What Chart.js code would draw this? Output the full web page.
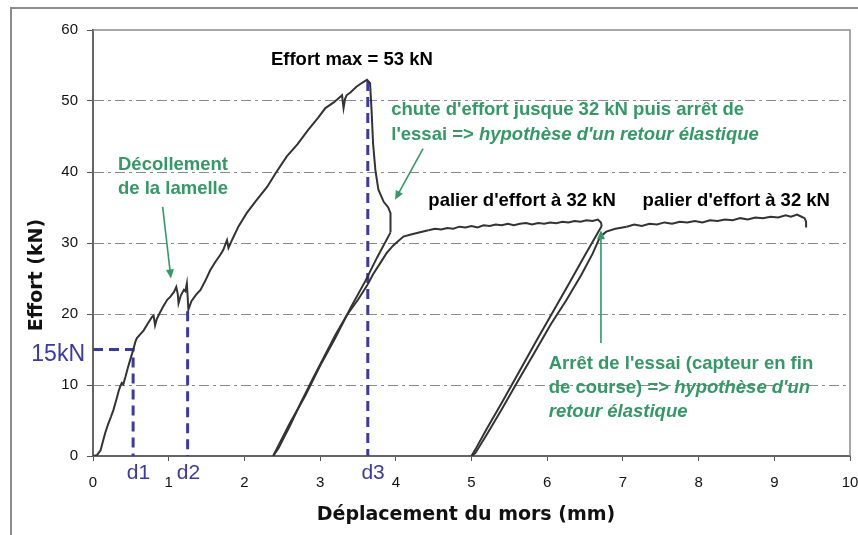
<!DOCTYPE html>
<html>
<head>
<meta charset="utf-8">
<script src="https://cdn.jsdelivr.net/npm/chart.js@4"></script>
<style>
  html, body { margin: 0; padding: 0; background: #fff; }
  #wrap { width: 858px; height: 535px; }
</style>
</head>
<body>
<div id="wrap"><canvas id="chart" width="858" height="535"></canvas></div>
<script>
// ---- data (mm, kN) ----
const loadX = [0, 0.05, 0.10, 0.13, 0.16, 0.20, 0.24, 0.27, 0.31, 0.34, 0.36, 0.38, 0.40, 0.43, 0.46, 0.49, 0.53, 0.56, 0.58, 0.62,
  0.67, 0.72, 0.78, 0.80, 0.82, 0.84, 0.87, 0.92, 0.98, 1.02, 1.04, 1.07, 1.10, 1.12, 1.13, 1.16, 1.20, 1.22, 1.24, 1.25,
  1.26, 1.30, 1.36, 1.42, 1.48, 1.55, 1.62, 1.68, 1.72, 1.77, 1.79, 1.84, 1.92, 2.03, 2.15, 2.30, 2.41, 2.56, 2.70, 2.84,
  2.97, 3.07, 3.18, 3.29, 3.31, 3.33, 3.35, 3.40, 3.48, 3.56, 3.62, 3.66, 3.68, 3.70, 3.73, 3.77, 3.84, 3.90, 3.93, 3.93];
const loadY = [0, 0.1, 0.8, 2.0, 3.2, 4.5, 5.6, 6.5, 8.0, 9.2, 9.8, 10.3, 10.1, 11.2, 12.4, 13.5, 14.9, 16.1, 16.6, 17.1,
  17.7, 18.6, 19.6, 19.8, 18.4, 19.2, 19.9, 20.9, 22.0, 22.4, 22.7, 23.1, 23.8, 22.8, 21.5, 22.6, 23.4, 23.2, 24.3, 22.5,
  20.6, 21.8, 22.7, 23.4, 24.6, 26.2, 27.4, 28.3, 29.0, 30.4, 29.3, 30.5, 32.3, 34.2, 35.9, 37.9, 39.8, 42.2, 43.9, 45.9,
  47.6, 49.0, 49.8, 50.8, 49.0, 50.3, 50.8, 51.2, 52.0, 52.6, 53.0, 52.5, 48.7, 44.0, 40.3, 37.5, 35.8, 35.0, 34.2, 31.5];

const unload1X = [3.93, 3.75, 3.60, 3.40, 3.20, 3.00, 2.80, 2.60, 2.45, 2.38];
const unload1Y = [31.5, 27.9, 24.7, 20.8, 16.6, 12.7, 8.4, 4.6, 1.5, 0];

const reload1X = [2.38, 2.45, 2.60, 2.75, 2.90, 3.05, 3.20, 3.35, 3.50, 3.62, 3.70, 3.79, 3.88, 3.97, 4.10, 4.20, 4.28, 4.43];
const reload1Y = [0, 1.1, 4.2, 7.6, 10.8, 13.9, 17.0, 19.8, 22.0, 24.0, 25.6, 27.1, 28.6, 29.7, 30.9, 31.2, 31.4, 31.8];

const plateau1X = [4.43, 4.52, 4.60, 4.68, 4.76, 4.84, 4.92, 5.00, 5.08, 5.16, 5.24, 5.32, 5.40, 5.48, 5.56, 5.64,
  5.72, 5.80, 5.88, 5.96, 6.04, 6.12, 6.20, 6.28, 6.36, 6.44, 6.52, 6.60, 6.67, 6.71, 6.72];
const plateau1Y = [31.8, 32.0, 31.9, 32.1, 32.0, 32.3, 32.2, 32.4, 32.2, 32.5, 32.4, 32.6, 32.5, 32.7, 32.5, 32.7,
  32.8, 32.6, 32.8, 32.7, 32.9, 32.8, 33.0, 32.9, 33.1, 33.0, 33.2, 33.1, 33.3, 32.9, 32.4];

const unload2X = [6.72, 6.50, 6.30, 6.08, 5.85, 5.60, 5.40, 5.20, 5.05, 5.00];
const unload2Y = [32.4, 28.3, 24.5, 20.4, 16.1, 11.3, 7.5, 3.8, 0.9, 0];

const reload2X = [5.00, 5.05, 5.20, 5.40, 5.60, 5.85, 6.05, 6.25, 6.45, 6.60, 6.70, 6.78, 6.90, 7.05];
const reload2Y = [0, 0.4, 3.0, 6.6, 10.3, 14.9, 18.6, 21.9, 25.5, 28.5, 30.9, 31.6, 32.0, 32.3];

const plateau2X = [7.05, 7.15, 7.25, 7.35, 7.45, 7.55, 7.65, 7.75, 7.85, 7.95, 8.05, 8.15, 8.25, 8.35, 8.45, 8.55,
  8.65, 8.75, 8.85, 8.95, 9.05, 9.15, 9.22, 9.30, 9.36, 9.40, 9.42, 9.42];
const plateau2Y = [32.3, 32.6, 32.4, 32.7, 32.6, 32.9, 32.7, 33.0, 32.9, 33.1, 32.9, 33.2, 33.1, 33.3, 33.2, 33.5,
  33.3, 33.6, 33.5, 33.7, 33.6, 33.9, 33.7, 34.0, 33.7, 33.5, 33.0, 32.2];

// blue guide lines (15 kN / d1, d2, d3)
const guide15X = [0, 0.53, 0.53];
const guide15Y = [15, 15, 0];
const guideD2X = [1.25, 1.25];
const guideD2Y = [20.4, 0];
const guideD3X = [3.63, 3.63];
const guideD3Y = [52.8, 0];

const xTicks = [0, 1, 2, 3, 4, 5, 6, 7, 8, 9, 10];
const yTicks = [0, 10, 20, 30, 40, 50, 60];

/* =========================
   HELPERS
========================= */

const GREEN = "#339966";
const BLUE = "#3a3aa6";
const CURVE = "#333333";

function pts(xs, ys) {
  return xs.map((x, i) => ({ x: x, y: ys[i] }));
}

function curve(xs, ys) {
  return {
    data: pts(xs, ys),
    showLine: true,
    borderColor: CURVE,
    borderWidth: 2,
    pointRadius: 0,
    tension: 0,
  };
}

function guide(xs, ys) {
  return {
    data: pts(xs, ys),
    showLine: true,
    borderColor: BLUE,
    borderWidth: 3,
    borderDash: [10, 6],
    pointRadius: 0,
    tension: 0,
  };
}

function richText(ctx, parts, x, y, align, size, color) {
  let total = 0;
  parts.forEach((p) => {
    ctx.font = (p.italic ? "italic " : "") + "bold " + size + "px 'Liberation Sans', Arial, sans-serif";
    total += ctx.measureText(p.t).width;
  });
  let cx = align === "center" ? x - total / 2 : x;
  ctx.fillStyle = color;
  ctx.textBaseline = "middle";
  ctx.textAlign = "left";
  parts.forEach((p) => {
    ctx.font = (p.italic ? "italic " : "") + "bold " + size + "px 'Liberation Sans', Arial, sans-serif";
    ctx.fillText(p.t, cx, y);
    cx += ctx.measureText(p.t).width;
  });
}

function arrow(ctx, x1, y1, x2, y2, color) {
  const a = Math.atan2(y2 - y1, x2 - x1);
  const len = 9;
  const w = 4;
  ctx.strokeStyle = color;
  ctx.fillStyle = color;
  ctx.lineWidth = 1.6;
  ctx.beginPath();
  ctx.moveTo(x1, y1);
  ctx.lineTo(x2 - Math.cos(a) * len * 0.8, y2 - Math.sin(a) * len * 0.8);
  ctx.stroke();
  ctx.beginPath();
  ctx.moveTo(x2, y2);
  ctx.lineTo(x2 - Math.cos(a) * len + Math.sin(a) * w, y2 - Math.sin(a) * len - Math.cos(a) * w);
  ctx.lineTo(x2 - Math.cos(a) * len - Math.sin(a) * w, y2 - Math.sin(a) * len + Math.cos(a) * w);
  ctx.closePath();
  ctx.fill();
}

/* =========================
   DECORATION PLUGIN
========================= */

const decor = {
  id: "decor",
  beforeDraw(chart) {
    const ctx = chart.ctx;
    ctx.save();
    ctx.fillStyle = "#fff";
    ctx.fillRect(0, 0, chart.width, chart.height);
    ctx.strokeStyle = "#8c8c8c";
    ctx.lineWidth = 2;
    ctx.strokeRect(11, 8, 900, 600);
    ctx.restore();
  },
  afterDraw(chart) {
    const ctx = chart.ctx;
    const xs = chart.scales.x;
    const ys = chart.scales.y;
    const area = chart.chartArea;
    const px = (v) => xs.getPixelForValue(v);
    const py = (v) => ys.getPixelForValue(v);

    ctx.save();

    // plot frame top / right
    ctx.strokeStyle = "#8c8c8c";
    ctx.lineWidth = 1.5;
    ctx.beginPath();
    ctx.moveTo(area.left, area.top);
    ctx.lineTo(area.right, area.top);
    ctx.lineTo(area.right, area.bottom);
    ctx.stroke();

    // axis titles
    ctx.fillStyle = "#111";
    ctx.font = "bold 19px 'DejaVu Sans', Verdana, sans-serif";
    ctx.textAlign = "center";
    ctx.textBaseline = "middle";
    ctx.fillText("Déplacement du mors (mm)", 466, 515);
    ctx.save();
    ctx.translate(37, 275);
    ctx.rotate(-Math.PI / 2);
    ctx.fillText("Effort (kN)", 0, 0);
    ctx.restore();

    // blue labels
    ctx.fillStyle = BLUE;
    ctx.font = "21px 'Liberation Sans', Arial, sans-serif";
    ctx.textBaseline = "middle";
    ctx.textAlign = "center";
    ctx.fillText("d1", px(0.6), area.bottom + 17);
    ctx.fillText("d2", px(1.26), area.bottom + 17);
    ctx.fillText("d3", px(3.7), area.bottom + 17);
    ctx.font = "23px 'Liberation Sans', Arial, sans-serif";
    ctx.textAlign = "right";
    ctx.fillText("15kN", area.left - 8, py(15) + 5);

    // black annotations
    const size = 18.5;
    richText(ctx, [{ t: "Effort max = 53 kN" }], px(3.42), py(55.8), "center", size, "#000");
    richText(ctx, [{ t: "palier d'effort à 32 kN" }], px(4.43), py(35.9), "left", size, "#000");
    richText(ctx, [{ t: "palier d'effort à 32 kN" }], px(7.26), py(35.9), "left", size, "#000");

    // green annotations
    richText(ctx, [{ t: "Décollement" }], px(1.057), py(41.0), "center", size, GREEN);
    richText(ctx, [{ t: "de la lamelle" }], px(1.057), py(37.6), "center", size, GREEN);
    richText(ctx, [{ t: "chute d'effort jusque 32 kN puis arrêt de" }], px(3.94), py(48.7), "left", size, GREEN);
    richText(ctx, [{ t: "l'essai => " }, { t: "hypothèse d'un retour élastique", italic: true }],
      px(3.94), py(45.2), "left", size, GREEN);
    richText(ctx, [{ t: "Arrêt de l'essai (capteur en fin" }], px(6.02), py(12.96), "left", size, GREEN);
    richText(ctx, [{ t: "de course) => " }, { t: "hypothèse d'un", italic: true }], px(6.02), py(9.58), "left", size, GREEN);
    richText(ctx, [{ t: "retour élastique", italic: true }], px(6.02), py(6.2), "left", size, GREEN);

    // arrows
    arrow(ctx, px(0.92), py(35.1), px(1.03), py(25.0), GREEN);
    arrow(ctx, px(4.36), py(43.3), px(3.99), py(36.1), GREEN);
    arrow(ctx, px(6.71), py(15.9), px(6.71), py(31.8), GREEN);

    ctx.restore();
  },
};

/* =========================
   CHART
========================= */

new Chart(document.getElementById("chart"), {
  type: "scatter",
  data: {
    datasets: [
      curve(loadX, loadY),
      curve(unload1X, unload1Y),
      curve(reload1X, reload1Y),
      curve(plateau1X, plateau1Y),
      curve(unload2X, unload2Y),
      curve(reload2X, reload2Y),
      curve(plateau2X, plateau2Y),
      guide(guide15X, guide15Y),
      guide(guideD2X, guideD2Y),
      guide(guideD3X, guideD3Y),
    ],
  },
  options: {
    responsive: false,
    animation: false,
    devicePixelRatio: 1,
    layout: { padding: { left: 0, top: 30, right: 8, bottom: 0 } },
    plugins: { legend: { display: false }, tooltip: { enabled: false } },
    scales: {
      x: {
        type: "linear",
        min: 0,
        max: 10,
        afterBuildTicks: (s) => { s.ticks = xTicks.map((v) => ({ value: v })); },
        afterFit: (s) => { s.height = 79; s.paddingLeft = 0; s.paddingRight = 0; },
        ticks: {
          color: "#111",
          padding: 13,
          maxRotation: 0,
          font: { family: "'Liberation Sans', Arial, sans-serif", size: 15 },
        },
        grid: { drawOnChartArea: false, drawTicks: true, tickLength: 5, color: "#555", tickColor: "#555" },
        border: { color: "#666", width: 2 },
      },
      y: {
        min: 0,
        max: 60,
        afterBuildTicks: (s) => { s.ticks = yTicks.map((v) => ({ value: v })); },
        afterFit: (s) => { s.width = 93; s.paddingTop = 0; s.paddingBottom = 0; },
        ticks: {
          color: "#111",
          padding: 9,
          font: { family: "'Liberation Sans', Arial, sans-serif", size: 15 },
        },
        grid: {
          color: (c) => (c.tick && (c.tick.value === 0 || c.tick.value === 60) ? "rgba(0,0,0,0)" : "#8a8a8a"),
          lineWidth: 1,
          tickLength: 6,
          tickColor: "#555",
        },
        border: { color: "#666", width: 2, dash: [10, 4, 3, 4] },
      },
    },
  },
  plugins: [decor],
});
</script>
</body>
</html>
